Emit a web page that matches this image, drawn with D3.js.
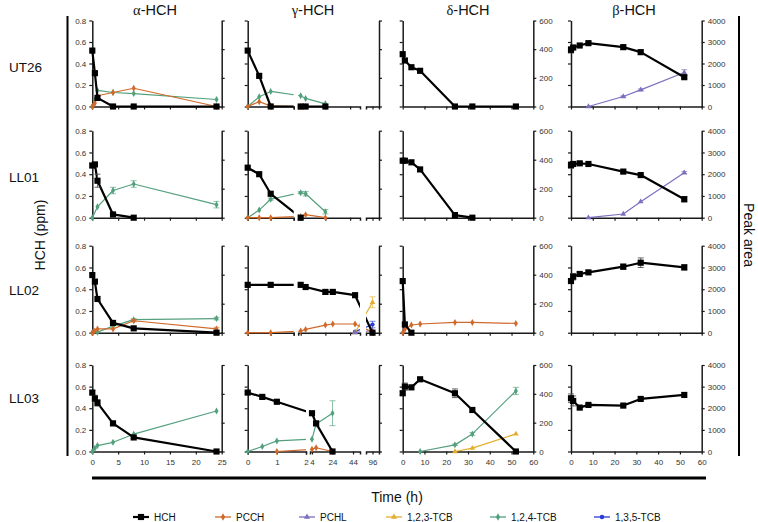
<!DOCTYPE html>
<html><head><meta charset="utf-8">
<script src="https://cdn.jsdelivr.net/npm/d3@7"></script>
<style>
body{margin:0;background:#fff;}
svg{display:block;font-family:"Liberation Sans",Arial,sans-serif;}
</style></head><body>
<svg id="c" width="758" height="522"></svg>
<script>
// ---------------- DATA ----------------
const rowNames = ["UT26","LL01","LL02","LL03"];
const greekLetters = ["α","γ","δ","β"];
const titleSuffix = "-HCH";
const legendNames = ["HCH","PCCH","PCHL","1,2,3-TCB","1,2,4-TCB","1,3,5-TCB"];
const leftTicks = [0,0.2,0.4,0.6,0.8];
const alphaXTicks = [0,5,10,15,20,25];
const hourXTicks = [0,10,20,30,40,50,60];
const gammaSegTicks = [[0,1,2],[4,24,44],[96]];
const deltaRightTicks = [0,200,400,600];
const betaRightTicks = [0,1000,2000,3000,4000];

const alphaTime = [0,0.5,1,4,8,24];
const gammaTime = [0,0.5,1,4,8,24];
const gammaTimeLL02 = [0,1,4,8,24,30,48,96];
const dbTime = [0,1,4,8,24,32,52];

// alpha-HCH (ppm)
const a_UT26_HCH = [0.52,0.31,0.08,0,0,0];
const a_UT26_PCCH = [0,0.03,0.10,0.13,0.17,0];
const a_UT26_TCB124 = [0,0.06,0.15,0.13,0.12,0.065];
const a_LL01_HCH = [0.48,0.49,0.34,0.03,0,null];
const a_LL01_HCH_err = [0.02,0.01,0.06,0,0,0];
const a_LL01_TCB124 = [0,null,0.10,0.25,0.31,0.12];
const a_LL01_TCB124_err = [0,0,0,0.03,0.03,0.03];
const a_LL02_HCH = [0.53,0.47,0.31,0.09,0.04,0];
const a_LL02_PCCH = [0,0.015,0.035,0.035,0.11,0.035];
const a_LL02_PCCH_err = [0,0,0,0,0.01,0.015];
const a_LL02_TCB124 = [0,null,0.005,0.06,0.12,0.13];
const a_LL02_TCB124_err = [0,0,0,0,0.01,0.012];
const a_LL03_HCH = [0.545,0.49,0.45,0.26,0.13,0];
const a_LL03_HCH_err = [0.02,0.03,0.03,0.02,0.01,0];
const a_LL03_TCB124 = [0,0.03,0.055,0.085,0.16,0.375];

// gamma-HCH (ppm)
const g_UT26_HCH = [0.52,0.285,0,0,0,0];
const g_UT26_PCCH = [0,0.045,0.005,0,0,0];
const g_UT26_TCB124 = [0,0.09,0.14,0.10,0.075,0.025];
const g_LL01_HCH = [0.46,0.40,0.22,0,null,null];
const g_LL01_PCCH = [0,0,0,0.012,0.028,0];
const g_LL01_TCB124 = [0,0.07,0.17,0.23,0.22,0.055];
const g_LL01_TCB124_err = [0,0,0.01,0.01,0.02,0.02];
const g_LL02_HCH = [0.44,0.44,0.44,0.42,0.375,0.375,0.345,0];
const g_LL02_HCH_err = [0,0,0,0,0.02,0.01,0.01,0];
const g_LL02_PCCH = [0,0,0.015,0.03,0.07,0.08,0.08,0.005];
const g_LL02_PCHL = [null,null,null,null,null,null,0,0.02];
const g_LL02_TCB123 = [null,null,null,null,null,null,0,0.28];
const g_LL02_TCB123_err = [0,0,0,0,0,0,0,0.05];
const g_LL02_TCB135 = [null,null,null,null,null,null,0.01,0.075];
const g_LL02_TCB135_err = [0,0,0,0,0,0,0,0.03];
const g_LL03_HCH = [0.545,0.505,0.46,0.354,0.26,0];
const g_LL03_HCH_err = [0.01,0.01,0.01,0.01,0.02,0];
const g_LL03_PCCH = [null,null,0,0.02,0.035,0];
const g_LL03_TCB124 = [0,0.046,0.098,0.114,0.255,0.354];
const g_LL03_TCB124_err = [0,0,0,0,0.01,0.115];

// delta-HCH (peak area)
const d_UT26_HCH = [365,321,274,249,0,0,0];
const d_LL01_HCH = [393,393,382,333,18,0,null];
const d_LL02_HCH = [356,57,0,null,null,null,null];
const d_LL02_PCCH = [0,23,53,60,71,71,64];
const d_LL03_HCH = [404,450,445,501,404,288,0];
const d_LL03_HCH_err = [15,25,0,0,30,0,0];
const d_LL03_TCB123 = [null,null,null,null,0,23,122];
const d_LL03_TCB124 = [null,null,null,0,46,122,420];
const d_LL03_TCB124_err = [0,0,0,0,5,10,25];

// beta-HCH (peak area)
const b_UT26_HCH = [2636,2744,2837,2946,2760,2527,1364];
const b_UT26_HCH_err = [150,100,0,50,100,100,60];
const b_UT26_PCHL = [null,null,null,0,465,775,1581];
const b_UT26_PCHL_err = [0,0,0,0,30,40,130];
const b_LL01_HCH = [2420,2470,2500,2470,2120,1960,850];
const b_LL01_HCH_err = [150,0,80,0,40,0,120];
const b_LL01_PCHL = [null,null,null,0,170,735,2070];
const b_LL01_PCHL_err = [0,0,0,0,0,0,60];
const b_LL02_HCH = [2375,2575,2700,2774,3034,3218,3004];
const b_LL02_HCH_err = [80,150,80,80,120,220,120];
const b_LL03_HCH = [2462,2338,2030,2154,2123,2430,2615];
const b_LL03_HCH_err = [200,230,0,50,0,0,0];

// ---------------- STYLE ----------------
const colors = {"HCH":"#000000","PCCH":"#d0692a","PCHL":"#7b6fc0","1,2,3-TCB":"#e3ae2f","1,2,4-TCB":"#53a07d","1,3,5-TCB":"#2a3bd8"};
const symbols = {"HCH":d3.symbolSquare,"PCCH":d3.symbolDiamond,"PCHL":d3.symbolTriangle,"1,2,3-TCB":d3.symbolTriangle,"1,2,4-TCB":d3.symbolDiamond,"1,3,5-TCB":d3.symbolCircle};

const panels = [
 {c:0,r:0,t:alphaTime,s:[["HCH",a_UT26_HCH],["PCCH",a_UT26_PCCH],["1,2,4-TCB",a_UT26_TCB124]]},
 {c:0,r:1,t:alphaTime,s:[["HCH",a_LL01_HCH,a_LL01_HCH_err],["1,2,4-TCB",a_LL01_TCB124,a_LL01_TCB124_err]]},
 {c:0,r:2,t:alphaTime,s:[["HCH",a_LL02_HCH],["PCCH",a_LL02_PCCH,a_LL02_PCCH_err],["1,2,4-TCB",a_LL02_TCB124,a_LL02_TCB124_err]]},
 {c:0,r:3,t:alphaTime,s:[["HCH",a_LL03_HCH,a_LL03_HCH_err],["1,2,4-TCB",a_LL03_TCB124]]},
 {c:1,r:0,t:gammaTime,s:[["HCH",g_UT26_HCH],["PCCH",g_UT26_PCCH],["1,2,4-TCB",g_UT26_TCB124]]},
 {c:1,r:1,t:gammaTime,s:[["HCH",g_LL01_HCH],["PCCH",g_LL01_PCCH],["1,2,4-TCB",g_LL01_TCB124,g_LL01_TCB124_err]]},
 {c:1,r:2,t:gammaTimeLL02,s:[["HCH",g_LL02_HCH,g_LL02_HCH_err],["PCCH",g_LL02_PCCH],["PCHL",g_LL02_PCHL],["1,2,3-TCB",g_LL02_TCB123,g_LL02_TCB123_err],["1,3,5-TCB",g_LL02_TCB135,g_LL02_TCB135_err]]},
 {c:1,r:3,t:gammaTime,s:[["HCH",g_LL03_HCH,g_LL03_HCH_err],["PCCH",g_LL03_PCCH],["1,2,4-TCB",g_LL03_TCB124,g_LL03_TCB124_err]]},
 {c:2,r:0,t:dbTime,s:[["HCH",d_UT26_HCH]]},
 {c:2,r:1,t:dbTime,s:[["HCH",d_LL01_HCH]]},
 {c:2,r:2,t:dbTime,s:[["HCH",d_LL02_HCH],["PCCH",d_LL02_PCCH]]},
 {c:2,r:3,t:dbTime,s:[["HCH",d_LL03_HCH,d_LL03_HCH_err],["1,2,3-TCB",d_LL03_TCB123],["1,2,4-TCB",d_LL03_TCB124,d_LL03_TCB124_err]]},
 {c:3,r:0,t:dbTime,s:[["HCH",b_UT26_HCH,b_UT26_HCH_err],["PCHL",b_UT26_PCHL,b_UT26_PCHL_err]]},
 {c:3,r:1,t:dbTime,s:[["HCH",b_LL01_HCH,b_LL01_HCH_err],["PCHL",b_LL01_PCHL,b_LL01_PCHL_err]]},
 {c:3,r:2,t:dbTime,s:[["HCH",b_LL02_HCH,b_LL02_HCH_err]]},
 {c:3,r:3,t:dbTime,s:[["HCH",b_LL03_HCH,b_LL03_HCH_err]]}
];

// ---------------- LAYOUT ----------------
const colX = [[92.3,221.7],[247.7,379],[402.7,533.3],[571,701.7]];
const rowY = [[20.5,106.5],[130.7,217.7],[245.7,332.7],[365,451.5]];
// gamma broken-axis segments (pixel offsets from panel left)
const gammaSegsTop = [{d:[0,2],r:[0,46]},{d:[2,52],r:[50.5,112.3]},{d:[90,102],r:[118.3,131.3]}];
const gammaSegsBottom = [{d:[0,2],r:[0,58.3]},{d:[2.05,50.8],r:[62.3,112.3]},{d:[90,102],r:[118.3,131.3]}];

const svg = d3.select("#c");
const axisCol = "#1a1a1a";

function brokenScale(segs, x0){
  const scs = segs.map(s => ({d:s.d, sc:d3.scaleLinear(s.d, s.r.map(v=>v+x0)), r:s.r.map(v=>v+x0)}));
  const f = t => { for (const s of scs) if (t >= s.d[0]-1e-9 && t <= s.d[1]+1e-9) return s.sc(t); return scs[scs.length-1].sc(t); };
  f.segs = scs;
  return f;
}

function styleAxis(g, showLabels){
  g.selectAll(".domain").attr("stroke",axisCol).attr("stroke-width",1.5);
  g.selectAll(".tick line").attr("stroke",axisCol).attr("stroke-width",1.2);
  g.selectAll(".tick text").attr("fill","#333").attr("font-size","8px").attr("font-family","Liberation Sans, Arial, sans-serif");
  if(!showLabels) g.selectAll(".tick text").remove();
}

let clipId = 0;
panels.forEach(p => {
  const [x0,x1] = colX[p.c];
  const [yt,yb] = rowY[p.r];
  const g = svg.append("g");
  const yL = d3.scaleLinear([0,0.8],[yb,yt]);
  const yR = d3.scaleLinear([0, p.c===3 ? 4000 : 600],[yb,yt]);
  const yPlot = p.c < 2 ? yL : yR;
  let x;
  if (p.c === 1) x = brokenScale(p.r===3 ? gammaSegsBottom : gammaSegsTop, x0);
  else x = d3.scaleLinear([0, p.c===0 ? 25 : 60],[x0,x1]);

  const la = g.append("g").attr("transform",`translate(${x0},0)`)
    .call(d3.axisLeft(yL).tickValues(leftTicks).tickSize(3).tickSizeOuter(0).tickFormat(d3.format(".1f")));
  styleAxis(la, p.c===0);
  const rTicks = p.c===3 ? betaRightTicks : deltaRightTicks;
  const ra = g.append("g").attr("transform",`translate(${x1},0)`)
    .call(d3.axisRight(yR).tickValues(rTicks).tickSize(3).tickSizeOuter(0).tickFormat(d3.format("d")));
  styleAxis(ra, p.c>=2);
  if (p.c === 1) {
    x.segs.forEach((s,i) => {
      const ba = g.append("g").attr("transform",`translate(0,${yb})`)
        .call(d3.axisBottom(s.sc).tickValues(gammaSegTicks[i]).tickSize(3).tickSizeOuter(3).tickFormat(d3.format("d")));
      styleAxis(ba, p.r===3);
      ba.selectAll(".tick text").attr("dy","0.9em");
    });
  } else {
    const ba = g.append("g").attr("transform",`translate(0,${yb})`)
      .call(d3.axisBottom(x).tickValues(p.c===0 ? alphaXTicks : hourXTicks).tickSize(3).tickSizeOuter(0).tickFormat(d3.format("d")));
    styleAxis(ba, p.r===3);
    ba.selectAll(".tick text").attr("dy","0.9em");
  }

  let clipAttr = null;
  if (p.c === 1) {
    const id = "clip"+(clipId++);
    const cp = svg.append("clipPath").attr("id",id);
    x.segs.forEach(s => cp.append("rect").attr("x",s.r[0]).attr("y",yt-30).attr("width",s.r[1]-s.r[0]).attr("height",yb-yt+36));
    clipAttr = `url(#${id})`;
  }

  const order = p.s.slice().reverse();
  order.forEach(([name, vals, errs]) => {
    const pts = p.t.map((t,i)=>({t, v:vals[i], e: errs ? errs[i] : 0})).filter(d => d.v !== null && d.v !== undefined);
    const col = colors[name];
    const isH = name === "HCH";
    const lg = g.append("g");
    if (clipAttr) lg.attr("clip-path", clipAttr);
    lg.append("path").datum(pts)
      .attr("d", d3.line().x(d=>x(d.t)).y(d=>yPlot(d.v)))
      .attr("fill","none").attr("stroke",col).attr("stroke-width", isH ? 2.2 : 1.2).attr("stroke-linejoin","round");
    const eg = g.append("g").attr("stroke", isH ? "#555" : col).attr("stroke-opacity", isH ? 0.9 : 0.65).attr("stroke-width",1);
    pts.filter(d=>d.e>0).forEach(d => {
      const cx = x(d.t), ya = yPlot(d.v - d.e), yb2 = yPlot(d.v + d.e);
      eg.append("line").attr("x1",cx).attr("x2",cx).attr("y1",ya).attr("y2",yb2);
      eg.append("line").attr("x1",cx-3).attr("x2",cx+3).attr("y1",ya).attr("y2",ya);
      eg.append("line").attr("x1",cx-3).attr("x2",cx+3).attr("y1",yb2).attr("y2",yb2);
    });
    g.append("g").selectAll("path").data(pts).join("path")
      .attr("transform", d => `translate(${x(d.t)},${yPlot(d.v)})`)
      .attr("d", d3.symbol(symbols[name], isH ? 38 : 14))
      .attr("fill", col);
  });
});

// Titles
const titleX = [155,313,468,634];
greekLetters.forEach((gl,i) => {
  const t = svg.append("text").attr("x",titleX[i]).attr("y",15).attr("text-anchor","middle")
    .attr("font-size","14.5px").attr("fill","#111");
  t.append("tspan").attr("font-family","Liberation Serif, DejaVu Serif, serif").text(gl);
  t.append("tspan").text(titleSuffix);
});

// Row labels
const rowLabelY = [67,177,290,398];
rowNames.forEach((n,i) => svg.append("text").attr("x",9).attr("y",rowLabelY[i]).attr("dy","0.35em")
  .attr("font-size","13.5px").attr("fill","#111").text(n));

// Frame lines
svg.append("line").attr("x1",67.5).attr("x2",67.5).attr("y1",16).attr("y2",456).attr("stroke","#000").attr("stroke-width",2);
svg.append("line").attr("x1",739).attr("x2",739).attr("y1",16).attr("y2",456).attr("stroke","#000").attr("stroke-width",2);
svg.append("line").attr("x1",92).attr("x2",706).attr("y1",478).attr("y2",478).attr("stroke","#000").attr("stroke-width",3);

// Axis titles
svg.append("text").attr("transform","translate(40,235) rotate(-90)").attr("text-anchor","middle").attr("dy","0.35em")
  .attr("font-size","14px").attr("fill","#111").text("HCH (ppm)");
svg.append("text").attr("transform","translate(749,235) rotate(90)").attr("text-anchor","middle").attr("dy","0.35em")
  .attr("font-size","14px").attr("fill","#111").text("Peak area");
svg.append("text").attr("x",397).attr("y",497).attr("text-anchor","middle").attr("dy","0.35em")
  .attr("font-size","14px").attr("fill","#111").text("Time (h)");

// Legend
const legendX = [141,223,307,394,498,602];
const lgY = 517;
legendNames.forEach((n,i) => {
  const cx = legendX[i];
  const col = colors[n];
  const isH = n === "HCH";
  svg.append("line").attr("x1",cx-8).attr("x2",cx+8).attr("y1",lgY).attr("y2",lgY).attr("stroke",col).attr("stroke-width", isH ? 2.2 : 1.3);
  svg.append("path").attr("transform",`translate(${cx},${lgY})`).attr("d", d3.symbol(symbols[n], isH ? 38 : 16)).attr("fill",col);
  svg.append("text").attr("x",cx+13).attr("y",lgY).attr("dy","0.35em").attr("font-size","10px").attr("fill","#111").text(n);
});
</script>
</body></html>
